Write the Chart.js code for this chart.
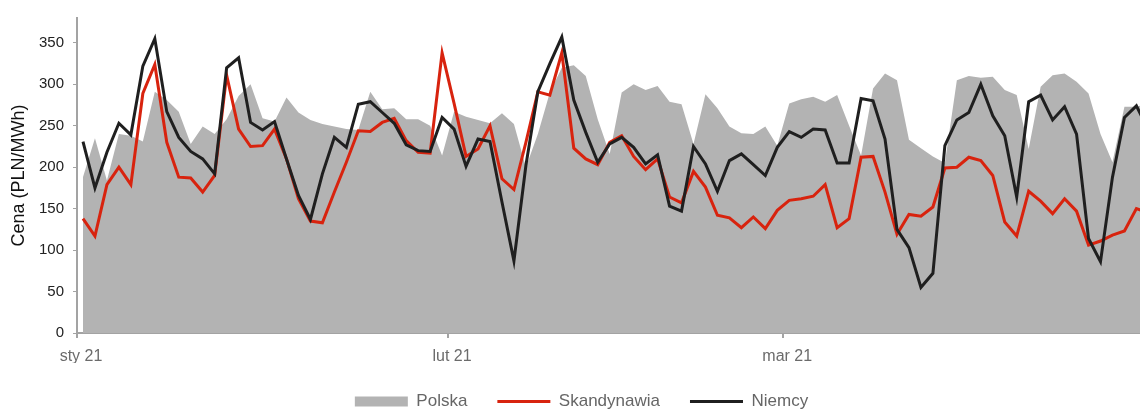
<!DOCTYPE html>
<html lang="pl">
<head>
<meta charset="utf-8">
<title>Ceny energii – sty–mar 2021</title>
<script src="https://cdn.jsdelivr.net/npm/chart.js"></script>
<style>
  html, body { margin: 0; padding: 0; background: #fff; overflow: hidden; }
  #wrap { width: 1140px; height: 420px; }
</style>
</head>
<body>
<div id="wrap"><canvas id="priceChart" width="1140" height="420"></canvas></div>
<script>
// Daily prices, 1 Jan – 31 Mar 2021 (PLN/MWh)
const MONTHS = ['sty 21', 'lut 21', 'mar 21'];
const MONTH_START = [0, 31, 59]; // day index of the 1st of each month

const POLSKA = [
  188, 235, 184, 240, 238, 231, 291, 281, 267, 228, 249, 240, 258, 286, 300, 259,
  255, 284, 266, 257, 252, 249, 246, 245, 291, 270, 271, 258, 258, 250, 214,
  267, 261, 257, 253, 265, 252, 200, 240, 290, 320, 323, 310, 258, 216, 290,
  300, 293, 298, 279, 276, 228, 288, 271, 249, 241, 240, 249, 226,
  277, 282, 285, 279, 287, 250, 214, 295, 313, 305, 233, 223, 213, 205, 305,
  310, 308, 309, 293, 287, 222, 297, 311, 313, 303, 289, 240, 206, 273, 273, 277
];

const SKANDYNAWIA = [
  138, 117, 179, 200, 179, 289, 324, 230, 188, 187, 170, 190, 311, 246, 225, 226,
  246, 210, 162, 135, 133, 170, 206, 244, 243, 254, 259, 232, 218, 217, 338,
  277, 213, 222, 250, 186, 173, 230, 291, 287, 338, 223, 210, 203, 230, 238,
  213, 197, 210, 164, 157, 195, 176, 142, 139, 127, 140, 126, 148,
  160, 162, 165, 179, 127, 138, 212, 213, 170, 119, 143, 141, 152, 199, 200,
  212, 208, 190, 134, 117, 171, 159, 144, 162, 147, 106, 111, 118, 123, 150, 145
];

const NIEMCY = [
  231, 175, 218, 253, 239, 322, 355, 267, 236, 219, 210, 192, 320, 332, 254, 245,
  255, 210, 166, 137, 192, 236, 224, 276, 279, 266, 253, 227, 220, 219, 260,
  246, 201, 234, 231, 158, 87, 202, 291, 325, 357, 281, 242, 206, 228, 236,
  224, 204, 215, 153, 147, 225, 204, 171, 208, 216, 203, 190, 224,
  243, 236, 246, 245, 205, 205, 283, 280, 234, 125, 103, 55, 72, 226, 257,
  266, 300, 262, 238, 164, 279, 287, 257, 273, 240, 114, 86, 188, 260, 274, 245
];

const DAYS = POLSKA.map((_, i) => i);

const GREY = '#b3b3b3';
const RED = '#d8230e';
const BLACK = '#1f1f1f';
const AXIS = '#a3a3a3';
const FONT = "'Liberation Sans', Arial, sans-serif";

// centre the legend row a bit right of the canvas middle
const nudgeLegend = {
  id: 'nudgeLegend',
  afterLayout(chart){
    if(chart.legend) chart.legend.left += 23;
  }
};

(function(){
  const ctx = document.getElementById('priceChart');
  if(!ctx) return;

  new Chart(ctx, {
    type: 'line',
    data: {
      labels: DAYS,
      datasets: [
        {
          label: 'Polska',
          data: POLSKA,
          fill: 'origin',
          backgroundColor: GREY,
          borderColor: GREY,
          borderWidth: 0,
          pointRadius: 0,
          pointHoverRadius: 0,
          pointStyle: 'rect',
          pointBackgroundColor: GREY,
          pointBorderWidth: 0,
          order: 3
        },
        {
          label: 'Skandynawia',
          data: SKANDYNAWIA,
          fill: false,
          borderColor: RED,
          backgroundColor: RED,
          borderWidth: 3,
          tension: 0,
          pointRadius: 0,
          pointHoverRadius: 0,
          pointStyle: 'line',
          pointBorderColor: RED,
          pointBorderWidth: 3,
          order: 2
        },
        {
          label: 'Niemcy',
          data: NIEMCY,
          fill: false,
          borderColor: BLACK,
          backgroundColor: BLACK,
          borderWidth: 3,
          tension: 0,
          pointRadius: 0,
          pointHoverRadius: 0,
          pointStyle: 'line',
          pointBorderColor: BLACK,
          pointBorderWidth: 3,
          order: 1
        }
      ]
    },
    options: {
      responsive: false,
      devicePixelRatio: 1,
      animation: false,
      events: [],
      layout: { padding: { top: 14, right: 0, bottom: 0, left: 0 } },
      plugins: {
        tooltip: { enabled: false },
        legend: {
          position: 'bottom',
          labels: {
            usePointStyle: true,
            pointStyleWidth: 53,
            boxHeight: 10,
            padding: 30,
            color: '#666',
            font: { family: FONT, size: 17 },
            sort: (a, b) => a.datasetIndex - b.datasetIndex
          }
        }
      },
      scales: {
        x: {
          type: 'linear',
          min: -0.5,
          max: 88.3,
          afterBuildTicks: (scale)=>{
            scale.ticks = MONTH_START.map(d => ({ value: d - 0.5 }));
          },
          afterFit: (scale)=>{ scale.height = 30; },
          border: { display: true, color: AXIS, width: 2 },
          grid: { drawOnChartArea: false, drawTicks: true, tickLength: 5, color: AXIS, lineWidth: 2 },
          ticks: {
            autoSkip: false,
            maxRotation: 0,
            padding: 9,
            labelOffset: 4,
            color: '#6b6b6b',
            font: { family: FONT, size: 16 },
            callback: (v, i)=> MONTHS[i]
          }
        },
        y: {
          min: 0,
          max: 380,
          afterBuildTicks: (scale)=>{
            scale.ticks = scale.ticks.filter(t => t.value <= 350);
          },
          afterFit: (scale)=>{ scale.width = 77; },
          border: { display: true, color: AXIS, width: 2 },
          grid: { drawOnChartArea: false, drawTicks: true, tickLength: 4, color: AXIS, lineWidth: 1 },
          ticks: {
            stepSize: 50,
            padding: 9,
            color: '#222',
            font: { family: FONT, size: 15 }
          },
          title: {
            display: true,
            text: 'Cena (PLN/MWh)',
            color: '#111',
            padding: { top: 8, bottom: 0 },
            font: { family: FONT, size: 18 }
          }
        }
      }
    },
    plugins: [nudgeLegend]
  });
})();
</script>
</body>
</html>
